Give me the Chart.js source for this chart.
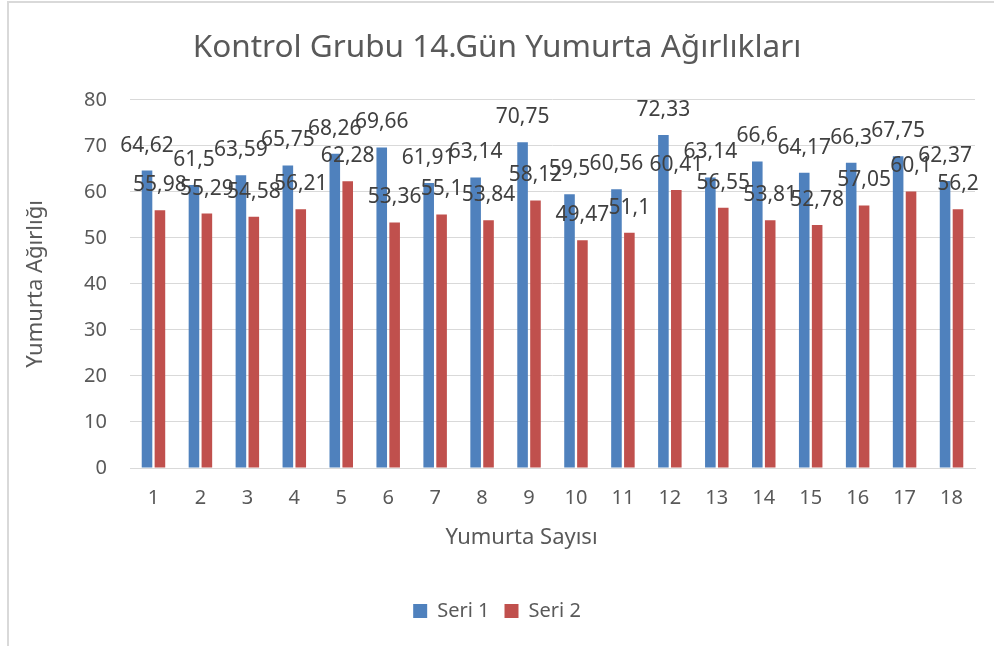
<!DOCTYPE html>
<html>
<head>
<meta charset="utf-8">
<script src="https://cdn.jsdelivr.net/npm/chart.js@4"></script>
<style>
  html, body { margin: 0; padding: 0; background: #ffffff; }
  #wrap { position: relative; width: 994px; height: 646px; overflow: hidden; }
  #frame { position: absolute; left: 7px; top: 1px; width: 1100px; height: 800px;
           border-left: 2px solid #d9d9d9; border-top: 2px solid #d9d9d9; box-sizing: border-box; }
  canvas { position: absolute; left: 0; top: 0; }
</style>
</head>
<body>
<div id="wrap">
  <div id="frame"></div>
  <canvas id="c" width="994" height="646"></canvas>
</div>
<script>
const categories = ["1","2","3","4","5","6","7","8","9","10","11","12","13","14","15","16","17","18"];
const seri1 = [64.62, 61.5, 63.59, 65.75, 68.26, 69.66, 61.91, 63.14, 70.75, 59.5, 60.56, 72.33, 63.14, 66.6, 64.17, 66.3, 67.75, 62.37];
const seri2 = [55.98, 55.29, 54.58, 56.21, 62.28, 53.36, 55.1, 53.84, 58.12, 49.47, 51.1, 60.41, 56.55, 53.81, 52.78, 57.05, 60.1, 56.2];
const seriesNames = ["Seri 1", "Seri 2"];
const titleText = "Kontrol Grubu 14.Gün Yumurta Ağırlıkları";
const xTitle = "Yumurta Sayısı";
const yTitle = "Yumurta Ağırlığı";

const FONT = "'Noto Sans', 'Open Sans', sans-serif";
const GRAY = "#595959";

const dataLabels = {
  id: 'dataLabels',
  afterDatasetsDraw(chart) {
    const ctx = chart.ctx;
    ctx.save();
    ctx.font = "21px " + FONT;
    ctx.fillStyle = "#404040";
    ctx.textAlign = "center";
    ctx.textBaseline = "middle";
    chart.data.datasets.forEach((ds, i) => {
      const meta = chart.getDatasetMeta(i);
      meta.data.forEach((bar, j) => {
        const txt = String(ds.data[j]).replace('.', ',');
        ctx.fillText(txt, bar.x, bar.y - 25);
      });
    });
    ctx.restore();
  }
};

const xAxisTitle = {
  id: 'xAxisTitle',
  afterDraw(chart) {
    const ctx = chart.ctx;
    const xs = chart.scales.x;
    ctx.save();
    ctx.font = "22px " + FONT;
    ctx.fillStyle = GRAY;
    ctx.textAlign = "center";
    ctx.textBaseline = "middle";
    ctx.fillText(xTitle, (xs.left + xs.right) / 2 - 31, xs.top + 70);
    ctx.restore();
  }
};

new Chart(document.getElementById('c'), {
  type: 'bar',
  data: {
    labels: categories,
    datasets: [
      { label: seriesNames[0], data: seri1, backgroundColor: '#4f81bd' },
      { label: seriesNames[1], data: seri2, backgroundColor: '#c0504d' }
    ]
  },
  options: {
    responsive: false,
    animation: false,
    layout: { padding: { left: 19, right: 19, top: 0, bottom: 15 } },
    datasets: { bar: { categoryPercentage: 0.55, barPercentage: 0.82 } },
    plugins: {
      title: {
        display: true,
        text: titleText,
        color: GRAY,
        font: { family: FONT, size: 31.5, weight: 'normal' },
        padding: { top: 29, bottom: 33 }
      },
      legend: {
        position: 'bottom',
        labels: {
          color: GRAY,
          font: { family: FONT, size: 20 },
          boxWidth: 14, boxHeight: 14,
          padding: 15
        }
      },
      tooltip: { enabled: false }
    },
    scales: {
      x: {
        grid: { display: false, drawTicks: false },
        border: { display: true, color: '#d9d9d9', width: 1 },
        ticks: { color: GRAY, font: { family: FONT, size: 20 }, padding: 18, maxRotation: 0 },
        afterFit(s) { s.height = 118; }
      },
      y: {
        min: 0, max: 80,
        ticks: { stepSize: 10, color: GRAY, font: { family: FONT, size: 20 }, padding: 23 },
        grid: { color: '#d9d9d9', drawTicks: false },
        border: { display: false },
        title: {
          display: true, text: yTitle, color: GRAY,
          font: { family: FONT, size: 22 },
          padding: { top: 4, bottom: 0 }
        },
        afterFit(s) { s.width = 111; }
      }
    }
  },
  plugins: [dataLabels, xAxisTitle]
});
</script>
</body>
</html>
